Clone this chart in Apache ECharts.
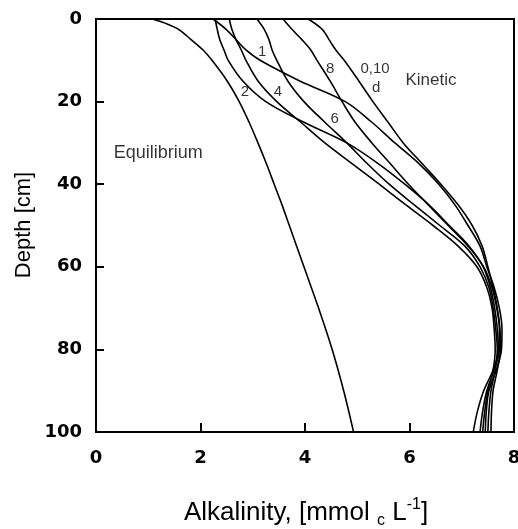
<!DOCTYPE html>
<html>
<head>
<meta charset="utf-8">
<script src="https://cdn.jsdelivr.net/npm/echarts@6/dist/echarts.min.js"></script>
<style>
html,body{margin:0;padding:0;background:#fff;overflow:hidden;}
#c{width:518px;height:529px;}
</style>
</head>
<body>
<div id="c"></div>
<script>
// Depth grid (cm) shared by the kinetic profiles
const depths = [0, 2.5, 5, 7.5, 10, 15, 20, 25, 30, 35, 40, 45, 50, 55, 60, 65, 70, 75, 80, 85, 90, 95, 100];
// Kinetic alkalinity profiles (mmol_c/L)
const kin0_10 = [4.06, 4.33, 4.46, 4.59, 4.75, 5.03, 5.30, 5.59, 5.88, 6.24, 6.60, 6.93, 7.20, 7.39, 7.50, 7.60, 7.68, 7.73, 7.74, 7.68, 7.60, 7.57, 7.56];
const kin1 = [2.24, 2.49, 2.68, 2.87, 3.14, 3.90, 4.77, 5.28, 5.72, 6.18, 6.56, 6.87, 7.12, 7.35, 7.48, 7.62, 7.72, 7.77, 7.76, 7.66, 7.52, 7.47, 7.45];
const kin2 = [2.28, 2.32, 2.37, 2.45, 2.53, 2.81, 3.25, 3.98, 4.80, 5.40, 5.91, 6.37, 6.76, 7.14, 7.41, 7.55, 7.63, 7.68, 7.70, 7.60, 7.42, 7.30, 7.22];
const kin4 = [2.55, 2.60, 2.68, 2.78, 2.87, 3.10, 3.46, 3.92, 4.38, 4.90, 5.42, 5.93, 6.45, 6.93, 7.29, 7.48, 7.58, 7.62, 7.64, 7.60, 7.50, 7.44, 7.40];
const kin6 = [3.08, 3.22, 3.31, 3.37, 3.46, 3.67, 3.98, 4.38, 4.80, 5.19, 5.61, 6.09, 6.58, 7.06, 7.35, 7.52, 7.60, 7.65, 7.68, 7.64, 7.56, 7.52, 7.50];
const kin8 = [3.58, 3.75, 3.94, 4.11, 4.23, 4.48, 4.71, 4.96, 5.28, 5.63, 5.98, 6.36, 6.74, 7.12, 7.42, 7.58, 7.67, 7.72, 7.72, 7.62, 7.48, 7.40, 7.35];
// Equilibrium profile
const eqDepths = [0, 1, 2.5, 5, 7.5, 10, 15, 20, 25, 30, 35, 40, 45, 50, 60, 70, 80, 90, 100];
const eqAlk = [1.08, 1.32, 1.58, 1.82, 2.05, 2.22, 2.51, 2.74, 2.93, 3.10, 3.26, 3.41, 3.56, 3.70, 3.98, 4.26, 4.52, 4.74, 4.93];
// Axis ticks
const xTicks = [0, 2, 4, 6, 8];
const yTicks = [0, 20, 40, 60, 80, 100];
// Annotations (text, alkalinity, depth)
const noteText = ['1', '2', '4', '6', '8', '0,10', 'd', 'Kinetic', 'Equilibrium'];
const noteX = [3.18, 2.85, 3.48, 4.57, 4.48, 5.34, 5.36, 6.41, 1.19];
const noteD = [8.0, 17.7, 17.7, 24.2, 12.1, 12.1, 16.7, 14.8, 32.5];
const noteSize = [15, 15, 15, 15, 15, 15, 15, 17, 18];

const chart = echarts.init(document.getElementById('c'), null, {renderer: 'canvas', width: 518, height: 529});
const FONT = "'Liberation Sans', Arial, Helvetica, sans-serif";

function profile(name, xs, ds) {
  return {
    name: name, type: 'line', smooth: 0.35, symbol: 'none',
    lineStyle: {color: '#000', width: 1.6},
    data: xs.map((v, i) => [v, ds[i]]),
    z: 3, silent: true
  };
}

const series = [
  profile('0,10 d', kin0_10, depths),
  profile('1 d', kin1, depths),
  profile('2 d', kin2, depths),
  profile('4 d', kin4, depths),
  profile('6 d', kin6, depths),
  profile('8 d', kin8, depths),
  profile('Equilibrium', eqAlk, eqDepths),
  {
    type: 'scatter', symbolSize: 0, silent: true, z: 5,
    data: noteText.map((t, i) => ({
      name: t, value: [noteX[i], noteD[i]],
      label: {fontSize: noteSize[i]}
    })),
    label: {show: true, position: 'inside', formatter: '{b}', color: '#000', fontFamily: FONT}
  }
];

chart.setOption({
  animation: false,
  backgroundColor: '#fff',
  grid: {left: 96, right: 4, top: 19, bottom: 97, containLabel: false, outerBoundsMode: 'none',
         show: true, borderColor: '#000', borderWidth: 2, backgroundColor: 'transparent'},
  xAxis: {
    type: 'value', position: 'bottom', min: xTicks[0], max: xTicks[xTicks.length - 1], interval: 2,
    axisLine: {show: true, onZero: false, lineStyle: {color: '#000', width: 2}},
    axisTick: {show: true, inside: true, length: 9, lineStyle: {color: '#000', width: 2}},
    axisLabel: {color: '#000', fontSize: 18, fontWeight: 'bold', fontFamily: "'DejaVu Sans', sans-serif", margin: 17, hideOverlap: false},
    splitLine: {show: false}
  },
  yAxis: {
    type: 'value', position: 'left', inverse: true, min: yTicks[0], max: yTicks[yTicks.length - 1], interval: 20,
    axisLine: {show: true, onZero: false, lineStyle: {color: '#000', width: 2}},
    axisTick: {show: true, inside: true, length: 8, lineStyle: {color: '#000', width: 2}},
    axisLabel: {color: '#000', fontSize: 18, fontWeight: 'bold', fontFamily: "'DejaVu Sans', sans-serif", margin: 14},
    splitLine: {show: false}
  },
  graphic: [
    {
      type: 'text', x: 24, y: 225, rotation: Math.PI / 2,
      style: {text: 'Depth [cm]', fill: '#000', font: "22px " + FONT, align: 'center', verticalAlign: 'middle'}
    },
    {
      type: 'text', x: 306, y: 513,
      style: {
        text: 'Alkalinity, [mmol {sub|c} L{sup|-1}]',
        fill: '#000', font: "26px " + FONT, align: 'center', verticalAlign: 'middle',
        rich: {
          sub: {fontSize: 16, fontFamily: FONT, fill: '#000', padding: [16, 0, 0, 0]},
          sup: {fontSize: 16, fontFamily: FONT, fill: '#000', padding: [0, 0, 16, 0]}
        }
      }
    }
  ],
  series: series
});
</script>
</body>
</html>
